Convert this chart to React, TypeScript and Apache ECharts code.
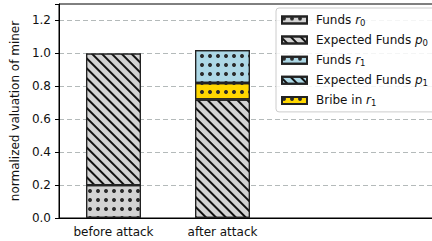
import React, { useEffect, useRef } from "react";
import * as echarts from "echarts";

const categories = ["before attack", "after attack", "", ""];
const fundsR0 = [0.2, null];
const expectedP0 = [0.8, 0.72];
const expectedP1 = [null, null];
const bribeR1 = [null, 0.1];
const fundsR1 = [null, 0.2];
const yTicks = [0, 0.2, 0.4, 0.6, 0.8, 1.0, 1.2];

const FONT = "DejaVu Sans";

const dots = {
  symbol: "circle",
  symbolSize: 1,
  color: "#2a2a2a",
  dashArrayX: [3.2, 3.6],
  dashArrayY: [3.2, 4.6],
};
const hatch = {
  symbol: "rect",
  color: "#111",
  dashArrayX: [1, 0],
  dashArrayY: [1.1, 4.2],
  rotation: Math.PI / 4,
};

const legendText: Record<string, string> = {
  "Funds r0": "{g|}Funds {i|r}{s|0}",
  "Expected Funds p0": "{g|}Expected Funds {i|p}{s|0}",
  "Funds r1": "{g|}Funds {i|r}{s|1}",
  "Expected Funds p1": "{g|}Expected Funds {i|p}{s|1}",
  "Bribe in r1": "{g|}Bribe in {i|r}{s|1}",
};

export default function App() {
  const ref = useRef<HTMLDivElement>(null);
  useEffect(() => {
    if (!ref.current) return;
    const chart = echarts.init(ref.current, null, { renderer: "svg" });
    const mk = (name: string, data: any[], color: string, decal: any) => ({
      name,
      type: "bar",
      stack: "total",
      barWidth: 55,
      data,
      itemStyle: { color, borderColor: "#222", borderWidth: 1.2, decal },
      emphasis: { disabled: true },
    });
    chart.setOption({
      animation: false,
      grid: {
        left: 59,
        top: 4,
        width: 436,
        height: 214,
        show: true,
        borderColor: "#000",
        borderWidth: 1,
        backgroundColor: "transparent",
      },
      legend: {
        orient: "vertical",
        left: 276,
        top: 8,
        icon: "rect",
        itemWidth: 25,
        itemHeight: 7,
        itemGap: 5.1,
        padding: [4.5, 30, 4, 5],
        borderColor: "#ccc",
        borderWidth: 1,
        borderRadius: 3,
        backgroundColor: "rgba(255,255,255,0.85)",
        data: ["Funds r0", "Expected Funds p0", "Funds r1", "Expected Funds p1", "Bribe in r1"],
        formatter: (name: string) => legendText[name],
        textStyle: {
          fontFamily: FONT,
          fontSize: 12,
          color: "#111",
          lineHeight: 15,
          rich: {
            g: { width: 4 },
            i: { fontFamily: FONT, fontStyle: "italic", fontSize: 12, lineHeight: 15, color: "#111" },
            s: { fontFamily: FONT, fontSize: 8.5, lineHeight: 8, verticalAlign: "bottom", color: "#111" },
          },
        },
      },
      xAxis: {
        type: "category",
        data: categories,
        axisLine: { lineStyle: { color: "#000", width: 1 } },
        axisTick: {
          alignWithLabel: true,
          length: 4,
          interval: (i: number) => i < 2,
          lineStyle: { color: "#000" },
        },
        axisLabel: { fontFamily: FONT, fontSize: 12, color: "#111", margin: 8 },
        splitLine: { show: false },
      },
      yAxis: {
        type: "value",
        min: 0,
        max: 1.3,
        interval: 0.2,
        name: "normalized valuation of miner",
        nameLocation: "middle",
        nameGap: 30,
        nameTextStyle: { fontFamily: FONT, fontSize: 12, color: "#111" },
        axisLine: { show: true, lineStyle: { color: "#000", width: 1 } },
        axisTick: { show: true, length: 4, lineStyle: { color: "#000" } },
        axisLabel: {
          fontFamily: FONT,
          fontSize: 12,
          color: "#111",
          margin: 8,
          formatter: (v: number) => (yTicks.some((t) => Math.abs(t - v) < 1e-6) ? v.toFixed(1) : ""),
        },
        splitLine: {
          show: true,
          showMaxLine: false,
          lineStyle: { color: "#b4baba", type: [5, 3], width: 1 },
        },
      },
      series: [
        mk("Funds r0", fundsR0, "#d3d3d3", dots),
        mk("Expected Funds p0", expectedP0, "#d3d3d3", hatch),
        mk("Expected Funds p1", expectedP1, "#add8e6", hatch),
        mk("Bribe in r1", bribeR1, "#ffd700", dots),
        mk("Funds r1", fundsR1, "#add8e6", dots),
      ],
    });
    return () => chart.dispose();
  }, []);
  return (
    <div style={{ position: "absolute", left: 0, top: 0, width: 432, height: 241, overflow: "hidden", background: "#fff" }}>
      <div ref={ref} style={{ width: 520, height: 241 }} />
    </div>
  );
}
